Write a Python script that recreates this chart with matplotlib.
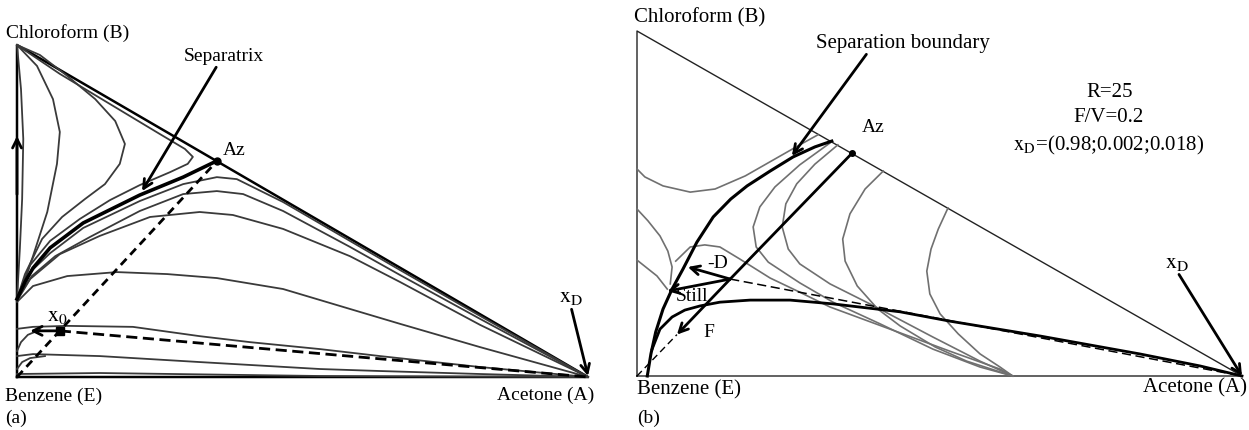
import matplotlib
matplotlib.use("Agg")
import matplotlib.pyplot as plt

plt.rcParams['font.family'] = ['Liberation Serif', 'DejaVu Serif']
plt.rcParams['mathtext.fontset'] = 'stix'

# ---- panel (a): residue curve map, x = acetone, y = chloroform ----
az_a = (0.35, 0.65)
x0_a = (0.075, 0.139)

sep_a_x = [0, .014, .028, .058, .116, .215, .291, .350]
sep_a_y = [.235, .286, .328, .389, .464, .548, .602, .651]

# curves above the separatrix (start at chloroform)
up_a = [
    ([0, .007, .011, .009, .005, 0], [1, .867, .717, .536, .386, .235]),
    ([0, .035, .063, .075, .070, .053, .028, .005, 0],
     [1, .937, .837, .738, .642, .497, .364, .250, .235]),
    ([0, .040, .088, .137, .172, .189, .180, .154, .119, .079, .044, .014, 0],
     [1, .970, .907, .837, .771, .702, .642, .581, .536, .482, .416, .310, .235]),
    ([0, .075, .163, .250, .294, .308, .299, .268, .215, .163, .110, .058, .023, 0],
     [1, .913, .822, .732, .687, .663, .642, .617, .578, .533, .476, .410, .337, .235]),
]
# curves below the separatrix (end at acetone)
low_a = [
    ([0, .023, .058, .116, .215, .291, .350, .385, .466, .583, .671, .811, 1],
     [.235, .316, .373, .449, .530, .581, .602, .596, .527, .410, .322, .184, 0]),
    ([0, .026, .067, .128, .215, .291, .350, .396, .466, .583, .671, .811, 1],
     [.235, .304, .364, .422, .500, .551, .560, .551, .500, .392, .307, .175, 0]),
    ([0, .023, .075, .145, .233, .320, .378, .466, .583, .671, .811, 1],
     [.229, .295, .370, .425, .482, .497, .488, .446, .364, .286, .157, 0]),
    ([0, .028, .088, .175, .263, .350, .466, .583, .671, .811, 1],
     [.226, .274, .304, .316, .310, .298, .265, .205, .160, .090, 0]),
    ([0, .028, .088, .203, .320, .408, .531, .636, .811, 1],
     [.145, .151, .154, .151, .123, .105, .084, .063, .030, 0]),
    ([0, .007, .019, .040], [.078, .105, .127, .142]),
    ([0, .028, .145, .320, .531, .636, .811, 1],
     [.063, .069, .063, .045, .024, .018, .009, 0]),
    ([0, .009, .023, .049], [.024, .045, .057, .063]),
    ([0, .145, .531, 1], [.009, .012, .003, 0]),
]

# ---- panel (b): distillation with feed ----
az_b = (0.355, 0.645)
p_b = (0.154, 0.281)       # still/feed mixing point
f_tip_b = (0.066, 0.120)
d_tip_b = (0.084, 0.316)
still_tip_b = (0.050, 0.246)

sep_b_x = [.017, .023, .031, .043, .058, .076, .099, .126, .155, .182, .220, .258, .294, .322]
sep_b_y = [0, .064, .128, .194, .252, .310, .388, .461, .513, .551, .594, .635, .664, .681]

prof_b_x = [.025, .038, .058, .079, .104, .137, .187, .253, .324, .435, .517, .666, .831, .931, 1.0]
prof_b_y = [.078, .136, .171, .191, .203, .214, .220, .220, .209, .186, .159, .116, .064, .029, 0]

gray_b = [
    ([0, .013, .043, .088, .129, .179, .228, .269, .299],
     [.600, .577, .551, .533, .542, .580, .629, .670, .699]),
    ([0, .018, .038, .051, .058, .055], [.484, .450, .406, .362, .316, .267]),
    ([0, .033, .050], [.336, .290, .252]),
    ([.064, .088, .112, .137, .170, .220, .269, .319, .435, .517, .600, .621],
     [.333, .374, .380, .374, .339, .284, .243, .200, .125, .072, .020, 0]),
    ([.321, .269, .228, .203, .192, .197, .217, .269, .324, .402, .489, .567, .621],
     [.678, .612, .548, .490, .432, .374, .330, .270, .214, .151, .078, .026, 0]),
    ([.332, .294, .264, .246, .240, .250, .269, .319, .385, .489, .567, .621],
     [.670, .614, .557, .499, .432, .368, .325, .267, .209, .113, .043, 0]),
    ([.407, .377, .352, .340, .344, .364, .398, .435, .493, .545, .621],
     [.594, .542, .470, .397, .333, .261, .194, .145, .084, .043, 0]),
    ([.514, .498, .486, .479, .484, .501, .531, .567, .600, .621],
     [.487, .426, .368, .304, .238, .180, .122, .064, .026, 0]),
]

W, H = 1249, 431
fig = plt.figure(figsize=(W / 100, H / 100), dpi=100)
ax1 = fig.add_axes([17 / W, 53 / H, 571 / W, 332 / H])
ax2 = fig.add_axes([637 / W, 54 / H, 605 / W, 345 / H])
for ax in (ax1, ax2):
    ax.set_xlim(0, 1)
    ax.set_ylim(0, 1)
    ax.axis('off')

fs = 14
arr = dict(arrowstyle='->', lw=2, color='black', mutation_scale=16, shrinkA=0, shrinkB=0)

# panel (a)
ax1.plot([0, 1, 0, 0], [0, 0, 1, 0], color='black', lw=1.8)
for xs, ys in up_a + low_a:
    ax1.plot(xs, ys, color='#3a3a3a', lw=1.3)
ax1.plot(sep_a_x, sep_a_y, color='black', lw=2.6)
ax1.plot([0, az_a[0]], [0, az_a[1]], color='black', lw=2, ls=(0, (3, 2)))
ax1.plot([x0_a[0], 1], [x0_a[1], 0], color='black', lw=2, ls=(0, (4, 2)))
ax1.plot(*az_a, 'o', color='black', ms=5)
ax1.plot(*x0_a, 's', color='black', ms=6)
ax1.annotate('', xy=(0, .726), xytext=(0, .55), arrowprops=arr)
ax1.annotate('', xy=(.023, .139), xytext=x0_a, arrowprops=arr)
ax1.annotate('Separatrix', xy=(.219, .560), xytext=(.363, .967), fontsize=fs,
             ha='center', va='center', arrowprops=dict(arr, relpos=(0.42, 0)))
ax1.annotate(r'$\mathrm{x_D}$', xy=(1.0, .003), xytext=(.970, .241), fontsize=fs + 2,
             ha='center', va='center', arrowprops=dict(arr, relpos=(0.5, 0)))
ax1.text(.36, .685, 'Az', fontsize=fs, ha='left', va='center')
ax1.text(.053, .185, r'$\mathrm{x_0}$', fontsize=fs + 2, ha='left', va='center')
ax1.text(.089, 1.039, 'Chloroform (B)', fontsize=fs, ha='center', va='center')
ax1.text(-.021, -.054, 'Benzene (E)', fontsize=fs, ha='left', va='center')
ax1.text(-.021, -.123, '(a)', fontsize=fs, ha='left', va='center')
ax1.text(.925, -.051, 'Acetone (A)', fontsize=fs, ha='center', va='center')

# panel (b)
ax2.plot([0, 1, 0, 0], [0, 0, 1, 0], color='#222222', lw=1)
for xs, ys in gray_b:
    ax2.plot(xs, ys, color='#707070', lw=1.2)
ax2.plot(sep_b_x, sep_b_y, color='black', lw=2.2)
ax2.plot(prof_b_x, prof_b_y, color='black', lw=2)
ax2.plot([p_b[0], az_b[0]], [p_b[1], az_b[1]], color='black', lw=2)
ax2.plot([0, f_tip_b[0]], [0, f_tip_b[1]], color='black', lw=1, ls=(0, (5, 3)))
ax2.plot([p_b[0], 1], [p_b[1], 0], color='black', lw=1.1, ls=(0, (6, 3)))
ax2.plot(*az_b, 'o', color='black', ms=4)
ax2.annotate('', xy=f_tip_b, xytext=p_b, arrowprops=arr)
ax2.annotate('', xy=d_tip_b, xytext=p_b, arrowprops=arr)
ax2.annotate('', xy=still_tip_b, xytext=p_b, arrowprops=arr)
ax2.annotate('Separation boundary', xy=(.256, .638), xytext=(.440, .968), fontsize=fs + 1,
             ha='center', va='center', arrowprops=dict(arr, relpos=(0.3, 0)))
ax2.annotate(r'$\mathrm{x_D}$', xy=(1.0, 0), xytext=(.893, .33), fontsize=fs + 2,
             ha='center', va='center', arrowprops=dict(arr, relpos=(0.5, 0)))
ax2.text(.372, .722, 'Az', fontsize=fs, ha='left', va='center')
ax2.text(.782, .826, 'R=25', fontsize=fs + 1, ha='center', va='center')
ax2.text(.780, .751, 'F/V=0.2', fontsize=fs + 1, ha='center', va='center')
ax2.text(.779, .672, r'$\mathrm{x_D}$=(0.98;0.002;0.018)', fontsize=fs + 1,
         ha='center', va='center')
ax2.text(.134, .330, '-D', fontsize=fs, ha='center', va='center')
ax2.text(.091, .232, 'Still', fontsize=fs, ha='center', va='center')
ax2.text(.119, .128, 'F', fontsize=fs, ha='center', va='center')
ax2.text(.104, 1.041, 'Chloroform (B)', fontsize=fs + 1, ha='center', va='center')
ax2.text(0, -.038, 'Benzene (E)', fontsize=fs + 1, ha='left', va='center')
ax2.text(0, -.119, '(b)', fontsize=fs, ha='left', va='center')
ax2.text(.922, -.032, 'Acetone (A)', fontsize=fs + 1, ha='center', va='center')

for ax in (ax1, ax2):
    for art in ax.get_children():
        art.set_clip_on(False)

fig.savefig('out.png', dpi=100, facecolor='white')
